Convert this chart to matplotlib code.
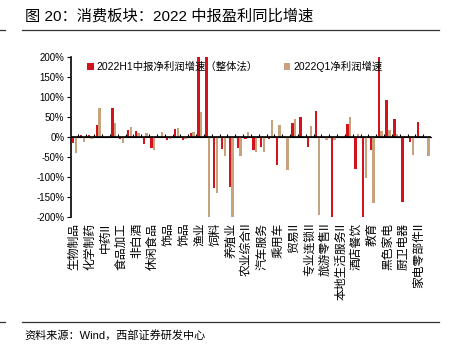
import numpy as np
import matplotlib
matplotlib.use('Agg')
import matplotlib.pyplot as plt
from matplotlib.lines import Line2D

plt.rcParams['font.family'] = ['Liberation Sans', 'Noto Sans CJK SC', 'DejaVu Sans']
plt.rcParams['axes.unicode_minus'] = True

# categories (only every other label is shown, as in the source chart)
categories = ['生物制品', '医疗器械', '化学制药', '医疗服务', '中药II', '医药商业',
              '食品加工', '白酒II', '非白酒', '饮料乳品', '休闲食品', '调味发酵品II',
              '饰品', '服装家纺', '饰品', '纺织制造', '渔业', '种植业',
              '饲料', '农产品加工', '养殖业', '动物保健II', '农业综合II', '汽车零部件',
              '汽车服务', '摩托车及其他', '乘用车', '商用车', '贸易II', '一般零售',
              '专业连锁II', '互联网电商', '旅游零售II', '体育II', '本地生活服务II', '专业服务',
              '酒店餐饮', '旅游及景区', '教育', '白色家电', '黑色家电', '小家电',
              '厨卫电器', '照明设备II', '家电零部件II', '其他家电II']

# 2022H1 net profit growth (%), whole-sector method
h1_growth = [-15, 5, 5, 30, 1, 72, -5, 18, 14, -18, -28, 1,
             -8, 20, -8, 11, 420, 320, -128, -30, -125, -28, -5, -32,
             -25, -5, -69, 1, 35, 51, -25, 64, 1, -260, 1, 33,
             -80, -240, -32, 200, 93, 46, -161, -13, 38, 1]

# 2022Q1 net profit growth (%)
q1_growth = [-40, -13, -5, 73, 2, 34, -15, 26, 11, 9, -33, 13,
             -5, 22, -5, 12, 63, -230, -140, -48, -215, -48, 13, -36,
             -38, 43, 30, -82, 46, 3, 28, -193, -8, -8, 1, 49,
             7, -101, -165, 16, 18, 8, 3, -45, 3, -48]

yticks = [-200, -150, -100, -50, 0, 50, 100, 150, 200]

red = '#D3121C'
tan = '#C8A27C'

fig = plt.figure(figsize=(4.5, 3.57), dpi=100)
ax = fig.add_axes([0.157, 0.391, 0.801, 0.450])

x = np.arange(len(categories))
w = 0.3
ax.bar(x - 0.17, h1_growth, width=w, color=red, label='2022H1中报净利润增速（整体法）', zorder=2)
ax.bar(x + 0.17, q1_growth, width=w, color=tan, label='2022Q1净利润增速', zorder=2)

ax.set_xlim(-0.5, len(categories) - 0.5)
ax.set_ylim(-200, 200)
ax.set_yticks(yticks)
ax.set_yticklabels([f'{v}%' for v in yticks], fontsize=7)
ax.tick_params(axis='y', direction='out', length=3, width=0.8, pad=1.5)

ax.set_xticks(x[::2])
ax.set_xticklabels(categories[::2], rotation=90, fontsize=8.5, va='top')
ax.tick_params(axis='x', length=0, pad=4)

for s in ['top', 'right', 'bottom']:
    ax.spines[s].set_visible(False)
ax.spines['left'].set_linewidth(1.2)

# zero line with small boundary ticks
ax.axhline(0, color='black', lw=1.2, zorder=3)
sec = ax.secondary_xaxis(0.5)
sec.set_xticks(x[:-1] + 0.5)
sec.set_xticklabels([])
sec.tick_params(direction='out', length=2.5, width=0.8)
sec.spines['bottom'].set_visible(False)

leg = ax.legend(loc='upper left', bbox_to_anchor=(0.035, 1.0), ncol=2, frameon=False,
                fontsize=7.5, handlelength=0.6, handleheight=0.6, handletextpad=0.3,
                columnspacing=2.5, borderaxespad=0)

fig.text(0.055, 0.955, '图 20：消费板块：2022 中报盈利同比增速', fontsize=11, va='center')
fig.add_artist(Line2D([0.049, 0.975], [0.915, 0.915], color='#333333', lw=0.9))
fig.add_artist(Line2D([0.0, 0.012], [0.915, 0.915], color='#333333', lw=0.9))
fig.add_artist(Line2D([0.049, 0.975], [0.098, 0.098], color='#333333', lw=0.9))
fig.add_artist(Line2D([0.0, 0.012], [0.098, 0.098], color='#333333', lw=0.9))
fig.text(0.055, 0.062, '资料来源：Wind，西部证券研发中心', fontsize=8, va='center')

fig.savefig('out.png', dpi=100)
